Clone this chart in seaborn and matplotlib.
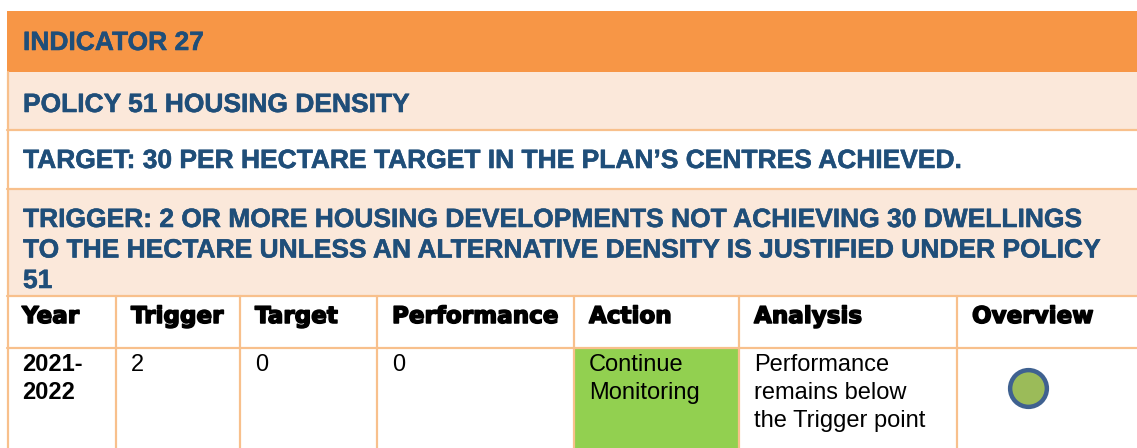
import numpy as np
import pandas as pd
import matplotlib
matplotlib.use("Agg")
import matplotlib.pyplot as plt
import matplotlib.patheffects as pe
import seaborn as sns
from matplotlib.patches import Rectangle

# --- table content ---
indicator_title = "INDICATOR 27"
policy_title = "POLICY 51 HOUSING DENSITY"
target_title = "TARGET: 30 PER HECTARE TARGET IN THE PLAN\u2019S CENTRES ACHIEVED."
trigger_lines = [
    "TRIGGER: 2 OR MORE HOUSING DEVELOPMENTS NOT ACHIEVING 30 DWELLINGS",
    "TO THE HECTARE UNLESS AN ALTERNATIVE DENSITY IS JUSTIFIED UNDER POLICY",
    "51",
]
columns = ["Year", "Trigger", "Target", "Performance", "Action", "Analysis", "Overview"]
year = ["2021-", "2022"]
trigger_val = ["2"]
target_val = ["0"]
performance_val = ["0"]
action = ["Continue", "Monitoring"]
analysis = ["Performance", "remains below", "the Trigger point"]
overview_status = ["green"]

# --- layout (pixels) ---
W, H = 1137, 448
col_edges = [7, 116, 240, 377, 574, 739, 957, 1145]
row_edges = [11, 72, 130, 189, 296, 348, 460]

ORANGE = "#F79646"
PEACH = "#FBE8DA"
BORDER = "#F8C08C"
BLUE = "#1F4E79"
GREEN_CELL = "#92D050"

sns.set_theme(style="white")
plt.rcParams["font.family"] = ["Liberation Sans", "DejaVu Sans"]

fig = plt.figure(figsize=(W / 100, H / 100), dpi=100)
ax = fig.add_axes([0, 0, 1, 1])

x0, x1 = col_edges[0], col_edges[-1]

# banded title rows
fills = [ORANGE, PEACH, "white", PEACH]
for i, c in enumerate(fills):
    ax.add_patch(Rectangle((x0, row_edges[i]), x1 - x0, row_edges[i + 1] - row_edges[i],
                           facecolor=c, edgecolor="none", zorder=1))

# green action cell
ax.add_patch(Rectangle((col_edges[4], row_edges[5]), col_edges[5] - col_edges[4],
                       row_edges[6] - row_edges[5], facecolor=GREEN_CELL, edgecolor="none", zorder=1))

# borders
lw = 1.6
for y in row_edges[2:6]:
    ax.plot([x0, x1], [y, y], color=BORDER, lw=lw, zorder=2)
ax.plot([x0 + 1, x0 + 1], [row_edges[1], H + 5], color=BORDER, lw=lw, zorder=2)
for x in col_edges[1:-1]:
    ax.plot([x, x], [row_edges[4], H + 5], color=BORDER, lw=lw, zorder=2)

title_kw = dict(color=BLUE, fontsize=19, fontweight="bold", va="baseline", ha="left", zorder=3,
                path_effects=[pe.withStroke(linewidth=0.4, foreground=BLUE)])
pad = 16
ax.text(x0 + pad, 50, indicator_title, **title_kw)
ax.text(x0 + pad, 112, policy_title, **title_kw)
ax.text(x0 + pad, 168, target_title, **title_kw)
for i, line in enumerate(trigger_lines):
    ax.text(x0 + pad, 227 + i * 30.5, line, **title_kw)

# header row (heavy face, thickened to look like Arial Black)
for i, name in enumerate(columns):
    ax.text(col_edges[i] + 15, 323, name, fontsize=16.6, fontweight="bold",
            family="DejaVu Sans", color="black", va="baseline", ha="left", zorder=3,
            path_effects=[pe.withStroke(linewidth=1.1, foreground="black")])

# data row
cells = [year, trigger_val, target_val, performance_val, action, analysis]
for i, lines in enumerate(cells):
    for j, line in enumerate(lines):
        ax.text(col_edges[i] + 15, 371 + j * 28, line, fontsize=17,
                fontweight="bold" if i == 0 else "normal",
                color="black", va="baseline", ha="left", zorder=3)

status_colors = {"green": "#9BBB59"}
ov = pd.DataFrame({"x": [1028], "y": [388], "status": overview_status})
sns.scatterplot(data=ov, x="x", y="y", hue="status", palette=status_colors, s=700,
                edgecolor="#3F6190", linewidth=3.2, legend=False, ax=ax, zorder=4)
ax.set_xlim(0, W)
ax.set_ylim(H, 0)
ax.axis("off")

fig.savefig("out.png", dpi=100)
